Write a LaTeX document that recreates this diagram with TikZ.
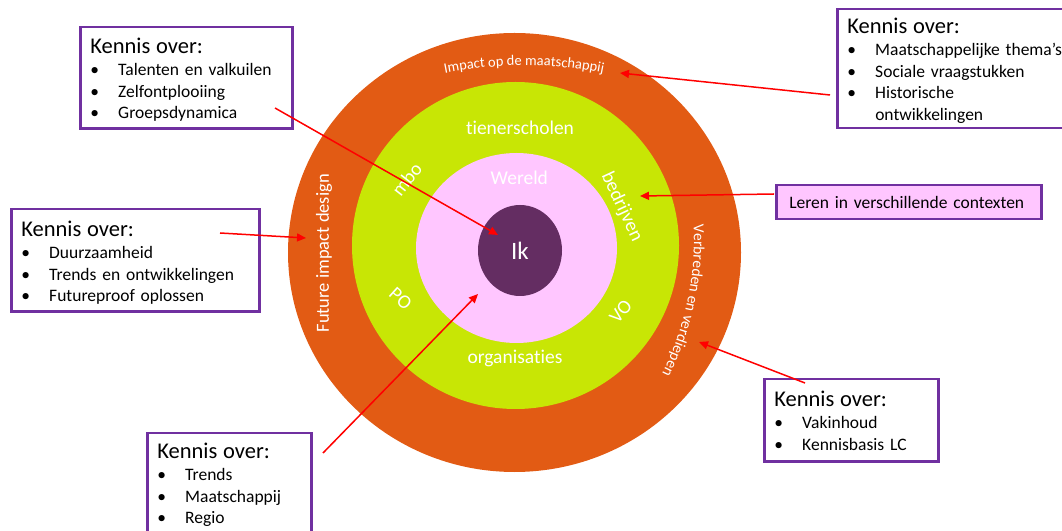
\documentclass[tikz,border=0pt]{standalone}
\usepackage{fontspec}
\setmainfont{Carlito}[Ligatures = NoCommon]
\usetikzlibrary{arrows.meta, shapes.geometric, decorations.text}

\definecolor{ringoranje}{RGB}{226,91,20}
\definecolor{ringgroen}{RGB}{200,230,5}
\definecolor{ringroze}{RGB}{255,198,255}
\definecolor{ikpaars}{RGB}{100,45,98}
\definecolor{kaderpaars}{RGB}{112,48,160}

\tikzstyle{kennis} = [rectangle, draw = kaderpaars, line width = 2.5pt, fill = white,
	anchor = north west, inner xsep = 10pt, inner ysep = 0pt, align = left,
	font = \fontsize{17.5}{21.5}\selectfont]
\tikzstyle{ringtekst} = [text = white, inner sep = 0pt, font = \fontsize{19.5}{22}\selectfont]
\tikzstyle{pijl} = [line width = 1.5pt, draw = red, -{Triangle[length = 9pt, width = 8pt]}]

\newcommand{\kop}[1]{\rule{0pt}{#1}{\fontsize{22.5}{23}\selectfont Kennis over:}\\[1pt]}
\newcommand{\punt}[1]{\makebox[28pt][l]{\textbullet}#1}
\newcommand{\steun}[1]{\rule[-#1]{0pt}{#1}}

\begin{document}
\begin{tikzpicture}[x = 1pt, y = 1pt]

\clip (0,0) rectangle (1062,530);

% de ringen
\fill [ringoranje] (514.5,277.5) ellipse [x radius = 226.5, y radius = 219.5];
\fill [ringgroen] (515.5,284.5) circle [radius = 163.5];
\fill [ringroze] (516.5,282) ellipse [x radius = 100.5, y radius = 95];

\node (ik) [ellipse, fill = ikpaars, minimum width = 84pt, minimum height = 91pt,
	inner sep = 0pt, text = white, font = \fontsize{25}{28}\selectfont] at (520,279.5) {Ik};

\node (wereld) [ringtekst] at (519.3,351.7) {Wereld};
\node (tiener) [ringtekst] at (520,401.7) {tienerscholen};
\node (organisaties) [ringtekst] at (515,171.7) {organisaties};
\node (mbo) [ringtekst, rotate = 52] at (406.7,350.7) {mbo};
\node (bedrijven) [ringtekst, rotate = -65] at (621.7,323.3) {bedrijven};
\node (po) [ringtekst, rotate = -42] at (400.7,231.7) {PO};
\node (vo) [ringtekst, rotate = 50] at (620.7,218.3) {VO};

\node (future) [ringtekst, rotate = 90, font = \fontsize{18.5}{20}\selectfont]
	at (324,276.7) {Future impact design};

\path [decorate, decoration = {text along path, text align = center,
	text = {|\color{white}\fontsize{14.5}{16}\selectfont|Impact op de maatschappij}}]
	([shift = {(524,48)}]105:416.5) arc [start angle = 105, end angle = 75, radius = 416.5];

\path [decorate, decoration = {text along path, text align = center,
	text = {|\color{white}\fontsize{15.5}{17}\selectfont|Verbreden en verdiepen}}]
	([shift = {(395,291)}]16:299) arc [start angle = 16, end angle = -40, radius = 299];

% kaders
\node (talenten) [kennis, text width = 192pt] at (79,504)
{
	\kop{26pt}
	\punt{Talenten en valkuilen}\\
	\punt{Zelfontplooiing}\\
	\punt{Groepsdynamica}\steun{10pt}
};

\node (duurzaam) [kennis, text width = 228pt] at (10,322)
{
	\kop{27pt}
	\punt{Duurzaamheid}\\
	\punt{Trends en ontwikkelingen}\\
	\punt{Futureproof oplossen}\steun{10pt}
};

\node (trends) [kennis, text width = 144pt] at (146,98)
{
	\kop{25pt}
	\punt{Trends}\\
	\punt{Maatschappij}\\
	\punt{Regio}\steun{12pt}
};

\node (vakinhoud) [kennis, text width = 154pt] at (763,152)
{
	\kop{27pt}
	\punt{Vakinhoud}\\
	\punt{Kennisbasis LC}\steun{11pt}
};

\node (thema) [kennis, text width = 240pt] at (836,522)
{
	\kop{24pt}
	\punt{Maatschappelijke thema’s}\\
	\punt{Sociale vraagstukken}\\
	\punt{Historische}\\
	\hspace*{28pt}ontwikkelingen\steun{8pt}
};

\node (contexten) [kennis, anchor = west, fill = ringroze, minimum height = 34pt,
	inner xsep = 13pt, text width = 239pt] at (775,328) {Leren in verschillende contexten};

% pijlen
\coordinate (talenten uit) at (275,422);
\coordinate (ik in) at (498,295);
\coordinate (duurzaam uit) at (220,297);
\coordinate (future in) at (306,292);
\coordinate (trends uit) at (323,77);
\coordinate (wereld in) at (478,236);
\coordinate (thema uit) at (830,435);
\coordinate (impact in) at (620,457);
\coordinate (contexten uit) at (774,336);
\coordinate (bedrijven in) at (640,334);
\coordinate (vakinhoud uit) at (805,147);
\coordinate (verbreden in) at (699,188);

\draw [pijl] (talenten uit) -- (ik in);
\draw [pijl] (duurzaam uit) -- (future in);
\draw [pijl] (trends uit) -- (wereld in);
\draw [pijl] (thema uit) -- (impact in);
\draw [pijl] (contexten uit) -- (bedrijven in);
\draw [pijl] (vakinhoud uit) -- (verbreden in);

\end{tikzpicture}
\end{document}
